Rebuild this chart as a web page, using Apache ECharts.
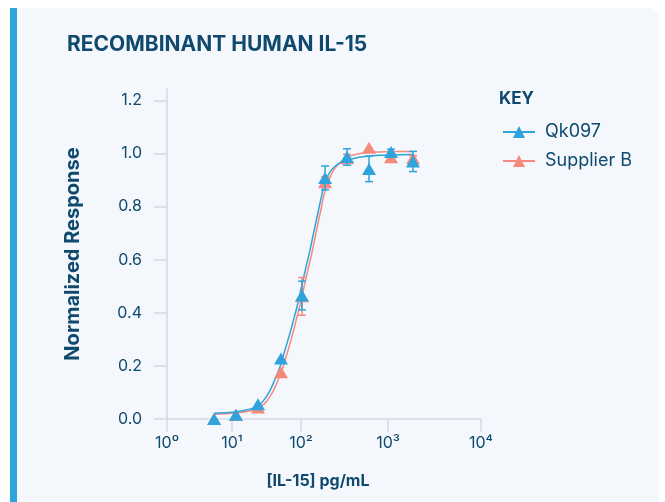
<!DOCTYPE html>
<html>
<head>
<meta charset="utf-8">
<script src="https://cdn.jsdelivr.net/npm/echarts@6/dist/echarts.min.js"></script>
<style>
html,body{margin:0;padding:0;background:#ffffff;}
#chart{width:665px;height:502px;}
</style>
</head>
<body>
<div id="chart"></div>
<script>
// ---- data (concentrations in pg/mL, responses normalized) ----
const conc = [5.3, 11.4, 23.8, 51.3, 102.6, 189, 338, 605, 1077, 1857];
const qkResp = [0.0, 0.016, 0.056, 0.228, 0.465, 0.908, 0.987, 0.942, 1.006, 0.970];
const qkErr = [0, 0, 0, 0, 0.054, 0.045, 0.031, 0.048, 0.01, 0.038];
const supResp = [0.0, 0.015, 0.043, 0.176, 0.462, 0.892, 0.982, 1.022, 0.986, 0.982];
const supErr = [0, 0, 0, 0, 0.071, 0.02, 0.015, 0, 0.008, 0.01];

const curveConc = [5.29, 7.8, 11.4, 16.5, 23.0, 29.1, 35.6, 42.0, 49.6, 58.6, 69.3, 79.2, 87.5, 96.8, 105.4, 114.1, 126.9, 137.3, 152.8, 169.8, 188.8, 215.5, 246, 296, 366, 516, 809, 1346, 1858];
const qkCurve = [0.022, 0.024, 0.027, 0.035, 0.047, 0.072, 0.108, 0.15, 0.197, 0.26, 0.324, 0.38, 0.423, 0.473, 0.523, 0.572, 0.636, 0.69, 0.76, 0.83, 0.893, 0.93, 0.952, 0.968, 0.978, 0.988, 0.993, 0.995, 0.996];
const supCurve = [0.018, 0.02, 0.023, 0.028, 0.038, 0.056, 0.085, 0.12, 0.165, 0.22, 0.285, 0.34, 0.385, 0.43, 0.48, 0.53, 0.595, 0.645, 0.72, 0.79, 0.86, 0.91, 0.945, 0.972, 0.99, 1.002, 1.006, 1.008, 1.008];

const xTickLabels = ['10\u2070', '10\u00b9', '10\u00b2', '10\u00b3', '10\u2074'];
const yTickValues = [0, 0.2, 0.4, 0.6, 0.8, 1.0, 1.2];

// ---- axis warping: each decade has its own width on the reference axis ----
const decadeKnots = [0, 65, 134, 221, 314];
function warp(c) {
  const L = Math.log10(c);
  const i = Math.min(3, Math.max(0, Math.floor(L)));
  return decadeKnots[i] + (L - i) * (decadeKnots[i + 1] - decadeKnots[i]);
}

const BLUE = '#2ea3dc';
const SALMON = '#f58a7c';
const NAVY = '#0f4a6e';
const AXIS = '#d2d9e6';
const FONT = 'Inter, "Noto Sans", sans-serif';

function pts(xs, ys) { return xs.map((c, i) => [warp(c), ys[i]]); }
function errs(xs, ys, es) {
  return xs.map((c, i) => [warp(c), ys[i] - es[i], ys[i] + es[i]]).filter((d, i) => es[i] > 0);
}
function errRender(color) {
  return function (params, api) {
    const x = api.value(0);
    const lo = api.coord([x, api.value(1)]);
    const hi = api.coord([x, api.value(2)]);
    const w = 4;
    const style = { stroke: color, lineWidth: 1.5 };
    return {
      type: 'group',
      children: [
        { type: 'line', shape: { x1: lo[0], y1: lo[1], x2: hi[0], y2: hi[1] }, style },
        { type: 'line', shape: { x1: lo[0] - w, y1: lo[1], x2: lo[0] + w, y2: lo[1] }, style },
        { type: 'line', shape: { x1: hi[0] - w, y1: hi[1], x2: hi[0] + w, y2: hi[1] }, style }
      ]
    };
  };
}

const chart = echarts.init(document.getElementById('chart'), null, { renderer: 'canvas' });
chart.setOption({
  animation: false,
  textStyle: { fontFamily: FONT },
  graphic: [
    { type: 'rect', z: -10, shape: { x: 10, y: 8, width: 649, height: 510, r: [0, 10, 0, 0] }, style: { fill: '#f4f7fb' } },
    { type: 'rect', z: -9, shape: { x: 10, y: 8, width: 7, height: 510 }, style: { fill: BLUE } },
    { type: 'text', left: 499, top: 90, style: { text: 'KEY', fill: NAVY, font: 'bold 17px ' + FONT } }
  ],
  title: {
    text: 'RECOMBINANT HUMAN IL-15',
    left: 62, top: 29,
    textStyle: { color: NAVY, fontSize: 21, fontWeight: 'bold', fontFamily: FONT }
  },
  legend: {
    orient: 'vertical',
    left: 497, top: 118,
    itemWidth: 32, itemHeight: 15, itemGap: 11,
    data: ['Qk097', 'Supplier B'],
    textStyle: { color: NAVY, fontSize: 18, fontFamily: FONT, padding: [0, 0, 0, 5] }
  },
  grid: { left: 167, top: 89, width: 314, height: 330 },
  xAxis: {
    type: 'value', min: 0, max: 314,
    name: '[IL-15] pg/mL', nameLocation: 'middle', nameGap: 54,
    nameTextStyle: { color: NAVY, fontSize: 16, fontWeight: 'bold', fontFamily: FONT, padding: [0, 12, 0, 0] },
    splitLine: { show: false },
    axisLine: { lineStyle: { color: AXIS, width: 1.5 } },
    axisTick: { length: 13, lineStyle: { color: AXIS, width: 1.5 }, customValues: decadeKnots },
    axisLabel: {
      customValues: decadeKnots, margin: 16, color: NAVY, fontSize: 16, fontFamily: FONT,
      formatter: v => xTickLabels[decadeKnots.indexOf(v)]
    }
  },
  yAxis: {
    type: 'value', min: 0, max: 1.243,
    name: 'Normalized Response', nameLocation: 'middle', nameGap: 84,
    nameTextStyle: { color: NAVY, fontSize: 20, fontWeight: 'bold', fontFamily: FONT },
    splitLine: { show: false },
    axisLine: { show: true, lineStyle: { color: AXIS, width: 1.5 } },
    axisTick: { show: true, length: 13, lineStyle: { color: AXIS, width: 1.5 }, customValues: yTickValues },
    axisLabel: {
      customValues: yTickValues, margin: 25, color: NAVY, fontSize: 16, fontFamily: FONT,
      formatter: v => v.toFixed(1)
    }
  },
  series: [
    { name: 'Supplier B', type: 'line', data: pts(curveConc, supCurve), smooth: true, symbol: 'triangle', showSymbol: false,
      lineStyle: { color: SALMON, width: 1.5 }, itemStyle: { color: SALMON }, z: 2 },
    { name: 'Qk097', type: 'line', data: pts(curveConc, qkCurve), smooth: true, symbol: 'triangle', showSymbol: false,
      lineStyle: { color: BLUE, width: 1.5 }, itemStyle: { color: BLUE }, z: 3 },
    { name: 'Supplier B', type: 'custom', data: errs(conc, supResp, supErr), renderItem: errRender(SALMON), z: 4 },
    { name: 'Supplier B', type: 'scatter', data: pts(conc, supResp), symbol: 'triangle', symbolSize: [14, 12],
      itemStyle: { color: SALMON, opacity: 1 }, z: 5 },
    { name: 'Qk097', type: 'custom', data: errs(conc, qkResp, qkErr), renderItem: errRender(BLUE), z: 6 },
    { name: 'Qk097', type: 'scatter', data: pts(conc, qkResp), symbol: 'triangle', symbolSize: [14, 12],
      itemStyle: { color: BLUE, opacity: 1 }, z: 7 }
  ]
});
</script>
</body>
</html>
